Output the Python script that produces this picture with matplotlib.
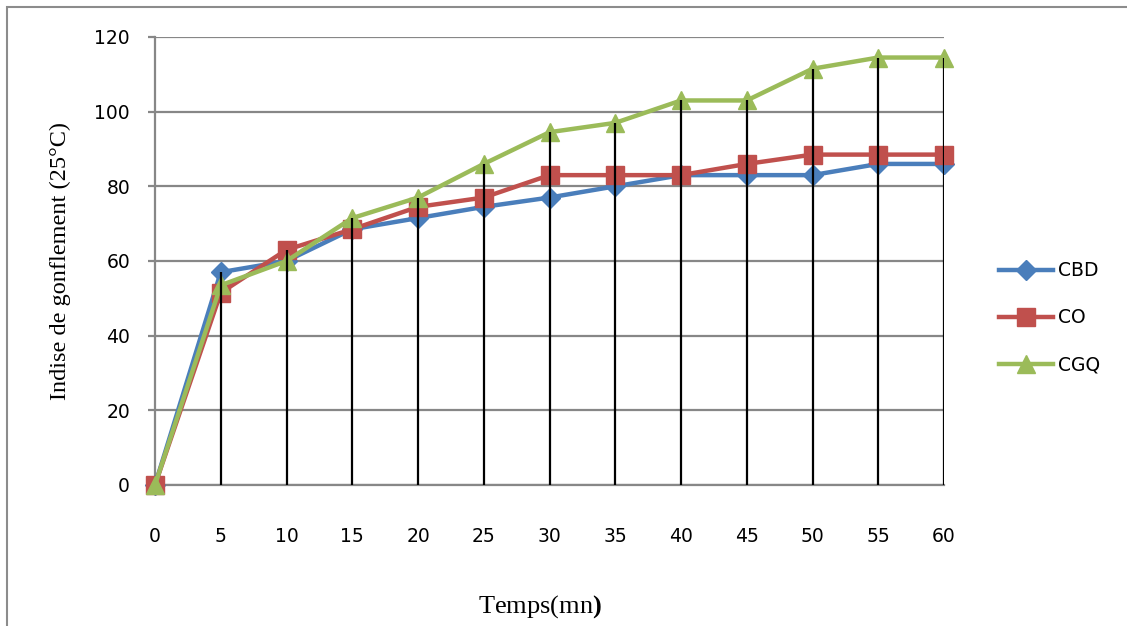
import numpy as np
import matplotlib.pyplot as plt
from matplotlib.patches import Rectangle

plt.rcParams['mathtext.fontset'] = 'custom'
plt.rcParams['mathtext.rm'] = 'Liberation Serif'
plt.rcParams['mathtext.bf'] = 'Liberation Serif:bold'

# temps (mn)
temps = [0, 5, 10, 15, 20, 25, 30, 35, 40, 45, 50, 55, 60]

# indice de gonflement
cbd = [0, 57, 60, 68.5, 71.5, 74.5, 77, 80, 83, 83, 83, 86, 86]
co = [0, 51.5, 63, 68.5, 74.5, 77, 83, 83, 83, 86, 88.5, 88.5, 88.5]
cgq = [0, 53.5, 60, 71.5, 77, 86, 94.5, 97, 103, 103, 111.5, 114.5, 114.5]

fig = plt.figure(figsize=(11.27, 6.26), dpi=100)
# cadre gris autour du graphique
fig.patches.append(Rectangle((7 / 1127, -0.1), 1.2, 1 - 7 / 626 + 0.1,
                             transform=fig.transFigure, fill=False,
                             edgecolor='#8c8c8c', linewidth=1.5))

ax = fig.add_axes([155 / 1127, 1 - 485 / 626, (944 - 155) / 1127, (485 - 37) / 626])

ax.plot(temps, cbd, color='#4A7EBB', marker='D', markersize=10.5, linewidth=3.2,
        label='CBD', clip_on=False, zorder=3)
ax.plot(temps, co, color='#C0504D', marker='s', markersize=12.5, linewidth=3.2,
        label='CO', clip_on=False, zorder=4)
ax.plot(temps, cgq, color='#9BBB59', marker='^', markersize=13, linewidth=3.2,
        label='CGQ', clip_on=False, zorder=5)

# lignes de projection
tops = np.maximum(np.maximum(cbd, co), cgq)
ax.vlines(temps, 0, tops, color='black', linewidth=1.6, zorder=6)

ax.set_xlim(0, 60)
ax.set_ylim(0, 120)
ax.set_xticks(temps)
ax.set_yticks(np.arange(0, 121, 20))
ax.grid(axis='y', color='#878787', linewidth=1.6)
ax.set_axisbelow(True)

for s in ['top', 'right']:
    ax.spines[s].set_visible(False)
for s in ['left', 'bottom']:
    ax.spines[s].set_color('#878787')
    ax.spines[s].set_linewidth(1.6)

ax.tick_params(axis='y', length=5, width=1.6, color='#878787', pad=13, labelsize=13.5)
ax.tick_params(axis='x', length=0, pad=30, labelsize=13.5)

ax.set_ylabel('Indise de gonflement (25°C)', family='Liberation Serif', fontsize=17.5, labelpad=17)
fig.text(540 / 1127, 1 - 607 / 626, 'Temps(mn$\\mathbf{)}$', family='Liberation Serif',
         fontsize=19, ha='center', va='center')

ax.legend(loc='center left', bbox_to_anchor=(1.048, 0.373), frameon=False,
          prop={'size': 13.5}, handlelength=2.9, labelspacing=1.5,
          handletextpad=0.25)

plt.savefig('out.png', dpi=100)
